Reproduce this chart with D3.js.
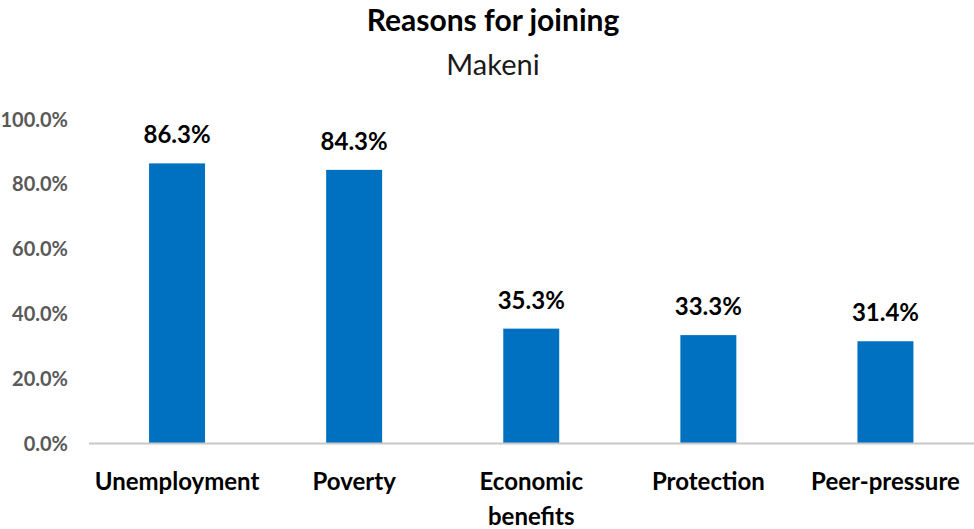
<!DOCTYPE html>
<html>
<head>
<meta charset="utf-8">
<script src="https://cdn.jsdelivr.net/npm/d3@7"></script>
<style>
  html, body { margin: 0; padding: 0; background: #fff; }
  svg { display: block; }
</style>
</head>
<body>
<svg id="chart" width="974" height="529"></svg>
<script>
// Share of respondents citing each reason (%)
const categories = ["Unemployment", "Poverty", "Economic benefits", "Protection", "Peer-pressure"];
const values = [86.3, 84.3, 35.3, 33.3, 31.4];
const yTicks = [0, 20, 40, 60, 80, 100];

const W = 974, H = 529;
const margin = { top: 119, right: 0, bottom: 86, left: 88.5 };
const font = "Lato, 'Open Sans', sans-serif";

const svg = d3.select("#chart");

const x = d3.scaleBand()
  .domain(categories)
  .range([margin.left, W - margin.right])
  .paddingInner(0.684)
  .paddingOuter(0.342);

const y = d3.scaleLinear()
  .domain([0, 100])
  .range([H - margin.bottom, margin.top]);

// Title block
svg.append("text")
  .attr("x", 493).attr("y", 31)
  .attr("text-anchor", "middle")
  .style("font-family", font).style("font-weight", 700)
  .style("font-size", "30px").attr("fill", "#000")
  .text("Reasons for joining");
svg.append("text")
  .attr("x", 493).attr("y", 75)
  .attr("text-anchor", "middle")
  .style("font-family", font).style("font-weight", 400)
  .style("font-size", "29px").attr("fill", "#1a1a1a")
  .text("Makeni");

// Y axis: labels only
const yAxis = d3.axisLeft(y)
  .tickValues(yTicks)
  .tickSize(0)
  .tickPadding(0)
  .tickFormat(d => d3.format(".1f")(d) + "%");
const gy = svg.append("g")
  .attr("transform", `translate(68,0)`)
  .call(yAxis);
gy.select(".domain").remove();
gy.selectAll("text")
  .attr("dy", "0.35em")
  .style("font-family", font).style("font-weight", 700)
  .style("font-size", "20px").attr("fill", "#595959");

// Bars
svg.append("g").selectAll("rect")
  .data(values)
  .join("rect")
  .attr("x", (d, i) => x(categories[i]))
  .attr("width", x.bandwidth())
  .attr("y", d => y(d))
  .attr("height", d => y(0) - y(d))
  .attr("fill", "#0070C0");

// Value labels
svg.append("g").selectAll("text")
  .data(values)
  .join("text")
  .attr("x", (d, i) => x(categories[i]) + x.bandwidth() / 2)
  .attr("y", d => y(d) - 20)
  .attr("text-anchor", "middle")
  .style("font-family", font).style("font-weight", 700)
  .style("font-size", "24px").attr("fill", "#000")
  .text(d => d.toFixed(1) + "%");

// X axis baseline and category labels
const xAxis = d3.axisBottom(x).tickSize(0).tickPadding(0);
const gx = svg.append("g")
  .attr("transform", `translate(0,${y(0)})`)
  .call(xAxis);
gx.select(".domain").attr("stroke", "#c8c8c8").attr("stroke-width", 2);
gx.selectAll(".tick text").remove();
gx.selectAll(".tick").each(function(d) {
  const words = d === "Economic benefits" ? ["Economic", "benefits"] : [d];
  const t = d3.select(this).append("text")
    .attr("text-anchor", "middle")
    .style("font-family", font).style("font-weight", 700)
    .style("font-size", "24px").attr("fill", "#000");
  words.forEach((w, i) => {
    t.append("tspan").attr("x", 0).attr("y", 47 + i * 35).text(w);
  });
});
</script>
</body>
</html>
